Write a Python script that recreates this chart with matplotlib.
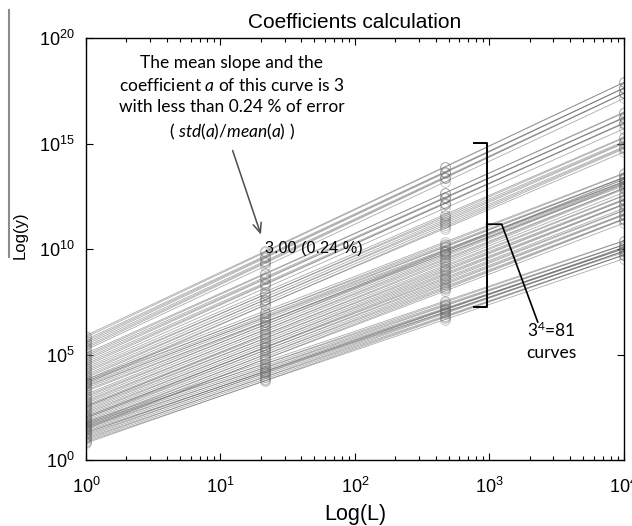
import numpy as np
import matplotlib.pyplot as plt
from matplotlib.lines import Line2D
from matplotlib.ticker import NullLocator

plt.rcParams['font.family'] = 'Liberation Sans'
plt.rcParams['mathtext.fontset'] = 'custom'
plt.rcParams['mathtext.rm'] = 'Lato'
plt.rcParams['mathtext.it'] = 'Lato:italic'

# L positions where each curve was evaluated
L = [1, 21.54, 464.16, 10000]

# log10(y) of the 81 curves at each L (9 bundles of 9 curves)
logy_1 = [5.90, 5.82, 5.71, 5.63, 5.55, 5.47, 5.38, 5.30, 5.22,
          5.05, 4.97, 4.90, 4.81, 4.73, 4.64, 4.55, 4.47, 4.38,
          4.30, 4.22, 4.14, 4.05, 3.97, 3.89, 3.80, 3.72, 3.63,
          3.80, 3.72, 3.65, 3.58, 3.52, 3.47, 3.40, 3.32, 3.25,
          3.12, 3.05, 2.98, 2.90, 2.82, 2.75, 2.68, 2.60, 2.52,
          2.55, 2.48, 2.40, 2.33, 2.26, 2.19, 2.12, 2.05, 1.98,
          2.05, 1.98, 1.90, 1.83, 1.76, 1.69, 1.62, 1.55, 1.48,
          1.80, 1.73, 1.66, 1.60, 1.54, 1.48, 1.42, 1.36, 1.30,
          1.28, 1.22, 1.16, 1.10, 1.04, 0.98, 0.92, 0.86, 0.80]
logy_2 = [9.90, 9.85, 9.68, 9.63, 9.58, 9.44, 9.38, 9.33, 9.19,
          8.85, 8.81, 8.67, 8.61, 8.57, 8.41, 8.35, 8.31, 8.15,
          7.97, 7.85, 7.85, 7.72, 7.60, 7.60, 7.47, 7.35, 7.34,
          7.07, 6.95, 6.96, 6.85, 6.75, 6.78, 6.67, 6.55, 6.56,
          6.52, 6.41, 6.42, 6.30, 6.18, 6.19, 6.08, 5.96, 5.96,
          5.88, 5.77, 5.77, 5.66, 5.55, 5.56, 5.45, 5.34, 5.35,
          5.32, 5.21, 5.21, 5.10, 4.99, 5.00, 4.89, 4.78, 4.79,
          4.67, 4.56, 4.57, 4.47, 4.37, 4.39, 4.29, 4.19, 4.21,
          4.21, 4.11, 4.13, 4.03, 3.93, 3.95, 3.85, 3.75, 3.77]
logy_3 = [13.90, 13.87, 13.66, 13.63, 13.60, 13.42, 13.38, 13.35, 13.17,
          12.65, 12.65, 12.45, 12.41, 12.41, 12.19, 12.15, 12.15, 11.93,
          11.63, 11.47, 11.55, 11.38, 11.22, 11.30, 11.13, 10.97, 11.04,
          10.33, 10.17, 10.26, 10.11, 9.97, 10.08, 9.93, 9.77, 9.86,
          9.92, 9.77, 9.86, 9.70, 9.54, 9.63, 9.48, 9.32, 9.40,
          9.22, 9.07, 9.15, 9.00, 8.85, 8.94, 8.79, 8.64, 8.73,
          8.58, 8.43, 8.51, 8.36, 8.21, 8.30, 8.15, 8.00, 8.09,
          7.53, 7.38, 7.47, 7.33, 7.19, 7.29, 7.15, 7.01, 7.11,
          7.15, 7.01, 7.11, 6.97, 6.83, 6.93, 6.79, 6.65, 6.75]
logy_4 = [17.90, 17.90, 17.63, 17.63, 17.63, 17.39, 17.38, 17.38, 17.14,
          16.45, 16.49, 16.22, 16.21, 16.25, 15.96, 15.95, 15.99, 15.70,
          15.30, 15.10, 15.26, 15.05, 14.85, 15.01, 14.80, 14.60, 14.75,
          13.60, 13.40, 13.57, 13.38, 13.20, 13.39, 13.20, 13.00, 13.17,
          13.32, 13.13, 13.30, 13.10, 12.90, 13.07, 12.88, 12.68, 12.84,
          12.55, 12.36, 12.52, 12.33, 12.14, 12.31, 12.12, 11.93, 12.10,
          11.85, 11.66, 11.82, 11.63, 11.44, 11.61, 11.42, 11.23, 11.40,
          10.40, 10.21, 10.38, 10.20, 10.02, 10.20, 10.02, 9.84, 10.02,
          10.08, 9.90, 10.08, 9.90, 9.72, 9.90, 9.72, 9.54, 9.72]

fig = plt.figure(figsize=(6.32, 5.26), dpi=100)
ax = fig.add_axes([0.136, 0.1255, 0.851, 0.802])

for k in range(len(logy_1)):
    y = 10.0 ** np.array([logy_1[k], logy_2[k], logy_3[k], logy_4[k]])
    ax.plot(L, y, '-', color='0.4', lw=0.6, alpha=0.55)
    ax.plot(L, y, 'o', ms=7, mfc='none', mec='0.45', mew=0.6, alpha=0.45)

ax.set_xscale('log')
ax.set_yscale('log')
ax.set_xlim(1, 1e4)
ax.set_ylim(1, 1e20)
ax.set_yticks([1e0, 1e5, 1e10, 1e15, 1e20])
ax.yaxis.set_minor_locator(NullLocator())
ax.tick_params(which='both', direction='in', top=True, right=True,
               labelsize=13, width=0.8)
ax.tick_params(which='major', length=5)
ax.tick_params(which='minor', length=3)
ax.tick_params(axis='x', pad=12)
ax.tick_params(axis='y', pad=8)
for s in ax.spines.values():
    s.set_linewidth(1.0)

ax.set_title('Coefficients calculation', fontsize=15, pad=7)
ax.set_xlabel('Log(L)', fontsize=15.5, labelpad=5)
ax.set_ylabel('Log(y)', fontsize=12)
ax.yaxis.set_label_coords(-0.108, 0.533)

# annotation text and arrow
ax.text(0.271, 0.857,
        "The mean slope and the\n"
        r"coefficient $\mathit{a}$ of this curve is 3" "\n"
        "with less than 0.24 % of error\n"
        r"( $\mathit{std(a)/mean(a)}$ )",
        transform=ax.transAxes, ha='center', va='center',
        family='Lato', fontsize=12.5, linespacing=1.4)
ax.annotate('', xy=(0.327, 0.528), xytext=(0.271, 0.740),
            xycoords='axes fraction', textcoords='axes fraction',
            arrowprops=dict(arrowstyle='->,head_length=0.7,head_width=0.3',
                            color='0.3', lw=1.1))
ax.text(21.5, 10 ** 10.05, '3.00 (0.24 %)', fontsize=11.7,
        ha='left', va='center')

# bracket around the middle curves
ax.plot([0.721, 0.745, 0.745, 0.721], [0.751, 0.751, 0.363, 0.363],
        color='k', lw=1.4, transform=ax.transAxes)
ax.plot([0.745, 0.773, 0.840], [0.559, 0.559, 0.327],
        color='k', lw=1.2, transform=ax.transAxes)
ax.text(0.866, 0.283, '3$^4$=81\ncurves', transform=ax.transAxes,
        ha='center', va='center', family='Lato', fontsize=12.5,
        linespacing=1.4)

fig.add_artist(Line2D([0.0142, 0.0142], [0.981, 0.511], color='0.55', lw=1.5))

fig.savefig('out.png', dpi=100)
